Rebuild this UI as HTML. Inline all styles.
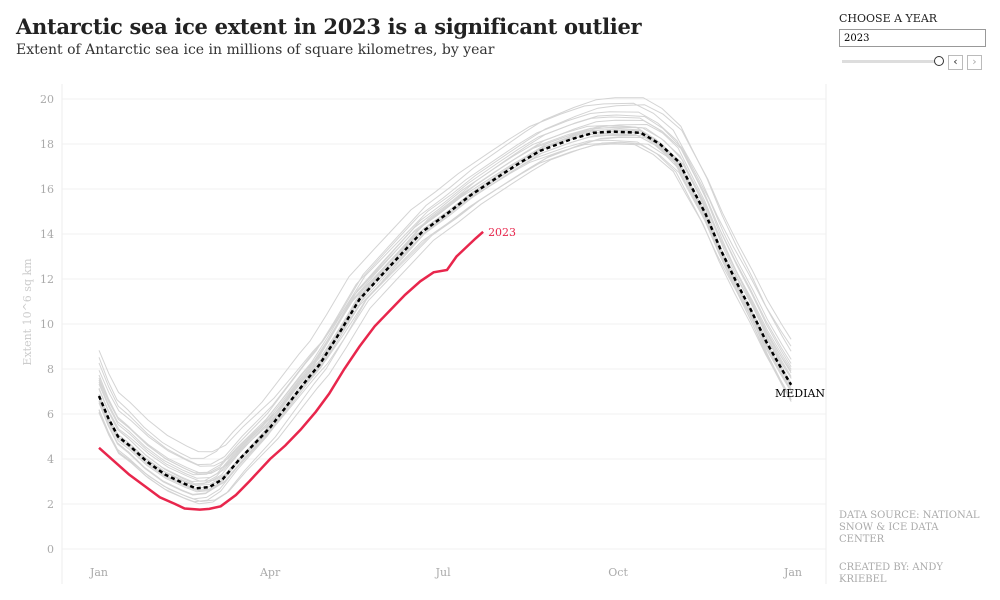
<!DOCTYPE html>
<html><head><meta charset="utf-8">
<style>
body{margin:0;background:#fff;width:1000px;height:600px;overflow:hidden;font-family:"DejaVu Serif","Liberation Serif",serif;}
#title{position:absolute;left:16px;top:14px;font-size:21px;font-weight:bold;color:#222;letter-spacing:-0.3px;}
#sub{position:absolute;left:16px;top:42px;font-size:14px;color:#333;}
#ctl-label{position:absolute;left:839px;top:12px;font-size:11px;color:#222;}
#year-input{position:absolute;left:839px;top:29px;height:18px;border:1px solid #999;font-size:10px;line-height:18px;padding-left:4px;box-sizing:border-box;width:147px;}
#slider{position:absolute;left:842px;top:60px;width:94px;height:3px;background:#ddd;}
#knob{position:absolute;left:934px;top:56px;width:8px;height:8px;border:1px solid #333;border-radius:50%;background:#fff;}
.nav{position:absolute;top:55px;width:13px;height:13px;border:1px solid #bbb;font-size:11px;line-height:12px;text-align:center;color:#333;font-family:"DejaVu Sans",sans-serif;}
.note{position:absolute;left:839px;font-size:10px;color:#aaa;line-height:12px;}
</style></head><body>
<div id="title">Antarctic sea ice extent in 2023 is a significant outlier</div>
<div id="sub">Extent of Antarctic sea ice in millions of square kilometres, by year</div>
<div id="ctl-label">CHOOSE A YEAR</div>
<div id="year-input">2023</div>
<div id="slider"></div>
<div id="knob"></div>
<div class="nav" style="left:948px">‹</div>
<div class="nav" style="left:967px;color:#aaa">›</div>
<div class="note" style="top:510px">DATA SOURCE: NATIONAL<br>SNOW &amp; ICE DATA<br>CENTER</div>
<div class="note" style="top:562px">CREATED BY: ANDY<br>KRIEBEL</div>
<svg id="chart" width="1000" height="600" style="position:absolute;left:0;top:0"></svg>
<script>
const medianDays=[0,5,10,16,25,35,45,51,58,65,74,82,90,100,110,116,125,137,150,160,170,183,195,211,222,232,248,260,270,285,295,305,311,319,327,335,343,351,359,364];
const medianVals=[6.8,5.8,5.0,4.6,3.9,3.3,2.9,2.7,2.75,3.1,4.0,4.7,5.4,6.5,7.6,8.2,9.4,11.1,12.3,13.2,14.1,14.9,15.7,16.6,17.2,17.7,18.2,18.5,18.55,18.5,18.0,17.2,16.2,14.9,13.3,11.9,10.6,9.2,8.0,7.3];
const y2023Days=[0,8,16,24,32,40,45,53,58,64,72,79,90,98,106,114,121,129,137,145,153,161,169,176,183,188,193,198,202];
const y2023Vals=[4.5,3.9,3.3,2.8,2.3,2.0,1.8,1.75,1.78,1.9,2.4,3.0,4.0,4.6,5.3,6.1,6.9,8.0,9.0,9.9,10.6,11.3,11.9,12.3,12.4,13.0,13.4,13.8,14.1];
const yearOffsets=[0.8,-0.45,1.35,-0.9,0.3,1.65,-0.3,0.6,-0.6,1.05,0.15,-0.75,0.45,1.2,-0.15,0.9,-1.05,0.0,2.1,-0.45,0.5,0.8,-0.2,0.35];
const yearScales=[1.0,1.03,0.97,1.04,0.96,1.01,1.05,0.99,1.0,0.95,1.03,1.0,0.98,1.04,1.01,0.96,1.05,1.0,0.99,1.02,0.97,1.02,1.0,0.96];
const yearShifts=[2,-4,5,-2,0,-6,3,1,-3,4,-1,6,-5,2,0,-3,4,-1,3,-4,5,-2,1,-6];
const yTicks=[0,2,4,6,8,10,12,14,16,18,20];
const xTickDays=[0,90,181,273,365];
const xTickLabels=["Jan","Apr","Jul","Oct","Jan"];
const NS="http://www.w3.org/2000/svg";
const svg=document.getElementById('chart');
const X=d=>99+d*(694/365), Y=v=>549-v*22.5;
function el(t,a){const e=document.createElementNS(NS,t);for(const k in a)e.setAttribute(k,a[k]);svg.appendChild(e);return e;}
const frame=el('line',{x1:62,x2:62,y1:84,y2:584,stroke:'#eee'});


const frame2=el('line',{x1:826,x2:826,y1:84,y2:584,stroke:'#eee'});


yTicks.forEach(v=>{
 const g=el('line',{x1:62,x2:826,y1:Y(v),y2:Y(v),stroke:'#f0f0f0'});
 
 
 const t=el('text',{x:54,y:Y(v)+4,'text-anchor':'end','font-size':11,fill:'#aaa'});
 t.textContent=v;
 
 
});
xTickDays.forEach((d,i)=>{
 const t=el('text',{x:X(d),y:576,'text-anchor':'middle','font-size':11,fill:'#aaa'});
 t.textContent=xTickLabels[i];
 
 
});
const yt=el('text',{x:0,y:0,transform:'translate(31,312) rotate(-90)','text-anchor':'middle','font-size':11,fill:'#ccc'});
yt.textContent='Extent 10^6 sq km';


function path(days,vals){return days.map((d,i)=>(i?'L':'M')+X(d).toFixed(1)+','+Y(vals[i]).toFixed(1)).join('');}
yearOffsets.forEach((o,i)=>{
 const vals=medianVals.map((v,j)=>{const w=Math.sin(Math.PI*medianDays[j]/365);return v*yearScales[i]+o*(1-0.5*w);});
 const days=medianDays.map(d=>Math.min(365,Math.max(0,d+yearShifts[i]*Math.sin(Math.PI*d/365))));
 const p=el('path',{d:path(days,vals),fill:'none',stroke:'#d4d4d4','stroke-width':1});
 
 
});
const m=el('path',{d:path(medianDays,medianVals),fill:'none',stroke:'#000','stroke-width':2.5,'stroke-dasharray':'4,3'});


const ml=el('text',{x:775,y:397,'font-size':11,fill:'#000'});
ml.textContent='MEDIAN';


const r=el('path',{d:path(y2023Days,y2023Vals),fill:'none',stroke:'#e8264c','stroke-width':2.5});


const rl=el('text',{x:X(y2023Days[y2023Days.length-1])+5,y:Y(y2023Vals[y2023Vals.length-1])+4,'font-size':11,fill:'#e8264c'});
rl.textContent='2023';


</script>
</body></html>
